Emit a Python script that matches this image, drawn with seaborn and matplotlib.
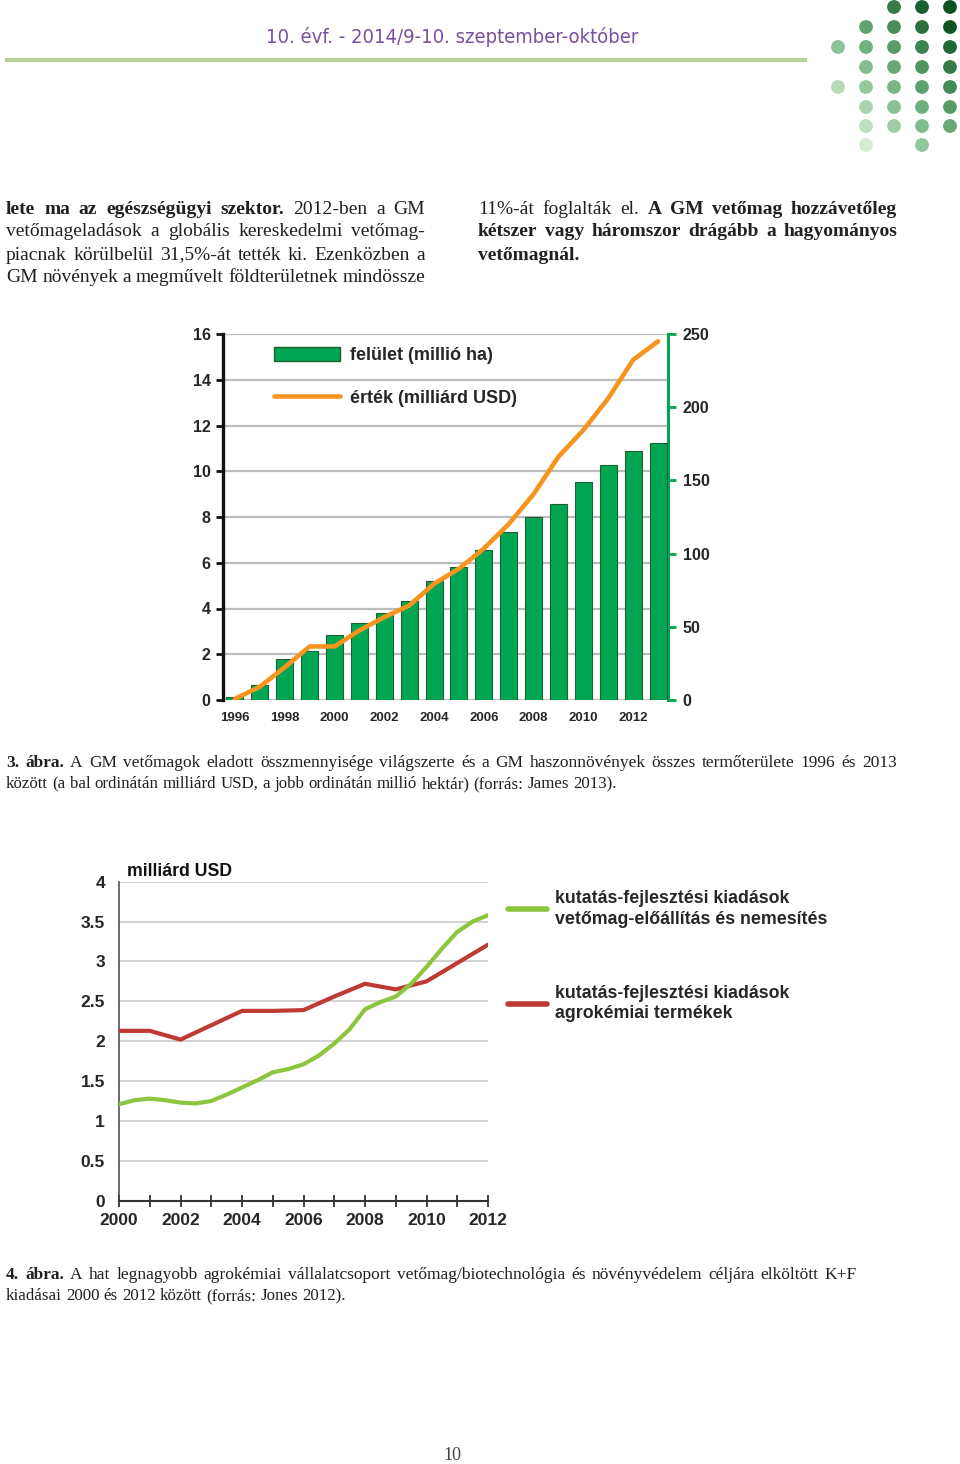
import matplotlib
matplotlib.use("Agg")
import matplotlib.pyplot as plt
import numpy as np
import pandas as pd
import seaborn as sns
from matplotlib.patches import Patch, Circle
from matplotlib.lines import Line2D
from matplotlib.colors import LinearSegmentedColormap

# ---------------- data: figure 3 ----------------
years1 = [1996, 1997, 1998, 1999, 2000, 2001, 2002, 2003, 2004,
          2005, 2006, 2007, 2008, 2009, 2010, 2011, 2012, 2013]
area_mha = [2.3, 10.3, 28.1, 33.8, 44.7, 52.7, 59.1, 67.8, 81.0,
            90.9, 102.5, 114.6, 125.3, 134.2, 148.6, 160.3, 170.3, 175.3]
value_busd = [0.05, 0.58, 1.43, 2.34, 2.34, 3.04, 3.62, 4.13, 5.08,
              5.74, 6.62, 7.69, 9.0, 10.64, 11.8, 13.19, 14.87, 15.68]
left_ticks1 = [0, 2, 4, 6, 8, 10, 12, 14, 16]
right_ticks1 = [0, 50, 100, 150, 200, 250]
xticks1 = [1996, 1998, 2000, 2002, 2004, 2006, 2008, 2010, 2012]
legend1 = ["felület (millió ha)", "érték (milliárd USD)"]

# ---------------- data: figure 4 ----------------
years_seed = [2000, 2000.5, 2001, 2001.5, 2002, 2002.5, 2003, 2003.5, 2004,
              2004.5, 2005, 2005.5, 2006, 2006.5, 2007, 2007.5, 2008, 2008.5,
              2009, 2009.5, 2010, 2010.5, 2011, 2011.5, 2012]
rd_seed = [1.21, 1.26, 1.28, 1.26, 1.23, 1.22, 1.25, 1.33, 1.42,
           1.51, 1.61, 1.65, 1.71, 1.82, 1.97, 2.15, 2.40, 2.49,
           2.56, 2.72, 2.93, 3.16, 3.37, 3.50, 3.58]
years_agro = [2000, 2001, 2002, 2003, 2004, 2005, 2006, 2007, 2008, 2009, 2010, 2011, 2012]
rd_agro = [2.13, 2.13, 2.02, 2.20, 2.38, 2.38, 2.39, 2.56, 2.72, 2.65, 2.75, 2.98, 3.21]
yticks2 = [0, 0.5, 1, 1.5, 2, 2.5, 3, 3.5, 4]
ylabels2 = ["0", "0.5", "1", "1.5", "2", "2.5", "3", "3.5", "4"]
xticks2 = [2000, 2002, 2004, 2006, 2008, 2010, 2012]
xminor2 = [2001, 2003, 2005, 2007, 2009, 2011]
legend2 = ["kutatás-fejlesztési kiadások\nvetőmag-előállítás és nemesítés",
           "kutatás-fejlesztési kiadások\nagrokémiai termékek"]

# ---------------- page texts ----------------
header = "10. évf. - 2014/9-10. szeptember-október"
left_col = [
    [("lete ma az egészségügyi szektor.", True), ("2012-ben a GM", False)],
    [("vetőmageladások a globális kereskedelmi vetőmag-", False)],
    [("piacnak körülbelül 31,5%-át tették ki. Ezenközben a", False)],
    [("GM növények a megművelt földterületnek mindössze", False)],
]
right_col = [
    [("11%-át foglalták el.", False), ("A GM vetőmag hozzávetőleg", True)],
    [("kétszer vagy háromszor drágább a hagyományos", True)],
    [("vetőmagnál.", True)],
]
cap3 = [
    [("3. ábra.", True), ("A GM vetőmagok eladott összmennyisége világszerte és a GM haszonnövények összes termőterülete 1996 és 2013", False)],
    [("között (a bal ordinátán milliárd USD, a jobb ordinátán millió hektár) (forrás: James 2013).", False)],
]
cap4 = [
    [("4. ábra.", True), ("A hat legnagyobb agrokémiai vállalatcsoport vetőmag/biotechnológia és növényvédelem céljára elköltött K+F", False)],
    [("kiadásai 2000 és 2012 között (forrás: Jones 2012).", False)],
]
page_no = "10"

# ---------------- styling ----------------
sns.set_style("white")
plt.rcParams["font.family"] = ["Liberation Sans", "DejaVu Sans"]

W, H = 960, 1464
fig = plt.figure(figsize=(W / 100, H / 100), dpi=100)
fig.patch.set_facecolor("white")

deco = fig.add_axes([0, 0, 1, 1])
deco.set_xlim(0, W)
deco.set_ylim(H, 0)
deco.axis("off")
renderer = fig.canvas.get_renderer()

SERIF = ["Liberation Serif", "DejaVu Serif"]
TXT = "#231f20"
DY = 2  # vertical nudge for serif text


def text_line(x, y, segments, size, width=None, color=TXT, family=SERIF):
    words = []
    for txt, bold in segments:
        for w in txt.split():
            words.append((w, bold))
    arts, widths = [], []
    for w, bold in words:
        t = deco.text(x, y + DY, w, fontsize=size, family=family,
                      fontweight="bold" if bold else "normal",
                      va="center", ha="left", color=color)
        arts.append(t)
        widths.append(t.get_window_extent(renderer).width)
    sp = 0.25 * size * 100 / 72
    if width is not None and len(words) > 1:
        gap = (width - sum(widths)) / (len(words) - 1)
    else:
        gap = sp
    cur = x
    for t, w in zip(arts, widths):
        t.set_x(cur)
        cur += w + gap


# header
ht = deco.text(452, 37, header, fontsize=16, family=["DejaVu Sans"],
               fontstretch="condensed", color="#7a4fa0", ha="center",
               va="center")
hw = ht.get_window_extent(renderer).width
ht.set_fontsize(16 * 374 / hw)
deco.plot([5, 807], [60, 60], color="#b7d09a", lw=3.0, solid_capstyle="butt")

# dots decoration
dot_cmap = LinearSegmentedColormap.from_list(
    "dots", ["#dcefd8", "#8cc598", "#4f9660", "#0a5220"])
dot_cols = [838, 866, 894, 922, 950]
dot_rows = [7, 27, 47, 67, 87, 107, 126, 145]
dot_mask = [[2, 3, 4], [1, 2, 3, 4], [0, 1, 2, 3, 4], [1, 2, 3, 4],
            [0, 1, 2, 3, 4], [1, 2, 3, 4], [1, 2, 3, 4], [1, 3]]
for r, cols in enumerate(dot_mask):
    for c in cols:
        t = np.clip(0.55 * (c / 4) + 0.62 * (1 - r / 7) - 0.1, 0, 1)
        deco.add_patch(Circle((dot_cols[c], dot_rows[r]), 6.9,
                              color=dot_cmap(t), lw=0))

# body text
for i, seg in enumerate(left_col):
    text_line(6, 207 + 23 * i, seg, 14, width=419)
for i, seg in enumerate(right_col):
    text_line(478, 207 + 23 * i, seg, 14, width=419 if i < 2 else None)

# captions
text_line(6, 761, cap3[0], 12.5, width=891)
text_line(6, 782, cap3[1], 12.2)
text_line(6, 1273, cap4[0], 12.5, width=851)
text_line(6, 1294, cap4[1], 12.2)
deco.text(452, 1454 + DY, page_no, fontsize=13, family=SERIF, color="#444444",
          ha="center", va="center")

# ================= Figure 3 chart =================
ax1 = fig.add_axes([223 / W, 1 - 700 / H, 445 / W, 366 / H])
ax2 = ax1.twinx()
df1 = pd.DataFrame({"year": years1, "area": area_mha, "value": value_busd})

BAR_GREEN = "#00a651"
ORANGE = "#f7941d"

sns.barplot(data=df1, x="year", y="area", native_scale=True, width=0.68,
            color=BAR_GREEN, saturation=1, edgecolor="#1f5f35", linewidth=0.8,
            ax=ax1, zorder=3)
ax1.set_xlim(1995.52, 2013.4)
ax1.set_ylim(0, 250)
ax2.set_ylim(0, 16)

# gridlines behind bars, at left-axis ticks
ytr = ax2.get_yaxis_transform()
for v in left_ticks1:
    ax1.plot([0, 1], [v, v], transform=ytr, color="#bcbcbc", lw=1.6, zorder=1)

sns.lineplot(data=df1, x="year", y="value", ax=ax2, color=ORANGE, lw=3.3,
             solid_joinstyle="round", solid_capstyle="round")

ax1.yaxis.tick_right()
ax1.set_yticks(right_ticks1)
ax1.set_yticklabels([str(v) for v in right_ticks1])
ax1.tick_params(axis="y", which="both", right=True, left=False, direction="out",
                length=5.5, width=2, color=BAR_GREEN, pad=5, labelsize=11.5)
ax1.set_xticks(xticks1)
ax1.set_xticklabels([str(v) for v in xticks1])
ax1.tick_params(axis="x", length=0, pad=8.5, labelsize=9.5)
for lab in ax1.get_xticklabels() + ax1.get_yticklabels():
    lab.set_fontweight("bold")
ax1.set_xlabel("")
ax1.set_ylabel("")

ax2.yaxis.tick_left()
ax2.set_yticks(left_ticks1)
ax2.set_yticklabels([str(v) for v in left_ticks1])
ax2.tick_params(axis="y", left=True, right=False, direction="out", length=5,
                width=2, color="#111111", pad=4, labelsize=11.5)
for lab in ax2.get_yticklabels():
    lab.set_fontweight("bold")
ax2.set_ylabel("")
ax2.set_xlabel("")

for s in ["top", "bottom", "left"]:
    ax1.spines[s].set_visible(False)
ax1.spines["right"].set_color(BAR_GREEN)
ax1.spines["right"].set_linewidth(2.2)
for s in ["top", "bottom", "right"]:
    ax2.spines[s].set_visible(False)
ax2.spines["left"].set_color("#111111")
ax2.spines["left"].set_linewidth(2.4)

fig.legend(
    handles=[Patch(facecolor=BAR_GREEN, edgecolor="#1f5f35", lw=1),
             Line2D([], [], color=ORANGE, lw=3.3)],
    labels=legend1, loc="upper left", bbox_to_anchor=(274 / W, 1 - 347 / H),
    frameon=False, prop={"weight": "bold", "size": 13}, handlelength=3.65,
    handleheight=0.85, labelspacing=1.4, handletextpad=0.55, borderpad=0,
    borderaxespad=0)

# ================= Figure 4 chart =================
ax3 = fig.add_axes([119 / W, 1 - 1200.7 / H, 369 / W, 319 / H])
LGREEN = "#8cc63f"
RED = "#be3a33"
df_seed = pd.DataFrame({"year": years_seed, "rd": rd_seed})
df_agro = pd.DataFrame({"year": years_agro, "rd": rd_agro})
sns.lineplot(data=df_agro, x="year", y="rd", ax=ax3, color=RED, lw=3,
             solid_capstyle="round", zorder=3)
sns.lineplot(data=df_seed, x="year", y="rd", ax=ax3, color=LGREEN, lw=3,
             solid_capstyle="round", zorder=4)
ax3.set_xlim(2000, 2012)
ax3.set_ylim(0, 4)
ax3.set_yticks(yticks2)
ax3.set_yticklabels(ylabels2)
ax3.yaxis.grid(True, color="#c9c9c9", lw=1.2)
ax3.set_axisbelow(True)
ax3.set_xticks(xticks2)
ax3.set_xticklabels([str(v) for v in xticks2])
ax3.set_xticks(xminor2, minor=True)
ax3.tick_params(axis="y", length=0, pad=10, labelsize=12.5)
ax3.tick_params(axis="x", which="both", direction="inout", length=9, width=1.3,
                color="#333333", pad=4.5, labelsize=12.5, bottom=True)
for lab in ax3.get_xticklabels() + ax3.get_yticklabels():
    lab.set_fontweight("bold")
ax3.set_xlabel("")
ax3.set_ylabel("")
for s in ["top", "right"]:
    ax3.spines[s].set_visible(False)
ax3.spines["left"].set_color("#444444")
ax3.spines["left"].set_linewidth(1.1)
ax3.spines["bottom"].set_color("#333333")
ax3.spines["bottom"].set_linewidth(1.5)

deco.text(127, 871, "milliárd USD", fontsize=12.7, fontweight="bold",
          ha="left", va="center", color="#111111")

leg2 = fig.legend(
    handles=[Line2D([], [], color=LGREEN, lw=4, solid_capstyle="round"),
             Line2D([], [], color=RED, lw=4, solid_capstyle="round")],
    labels=legend2, loc="upper left", bbox_to_anchor=(508 / W, 1 - 890 / H),
    frameon=False, prop={"weight": "bold", "size": 12.8}, handlelength=2.2,
    labelspacing=3.2, handletextpad=0.45, borderpad=0, borderaxespad=0)
for t in leg2.get_texts():
    t.set_linespacing(1.28)

fig.savefig("out.png", dpi=100)
